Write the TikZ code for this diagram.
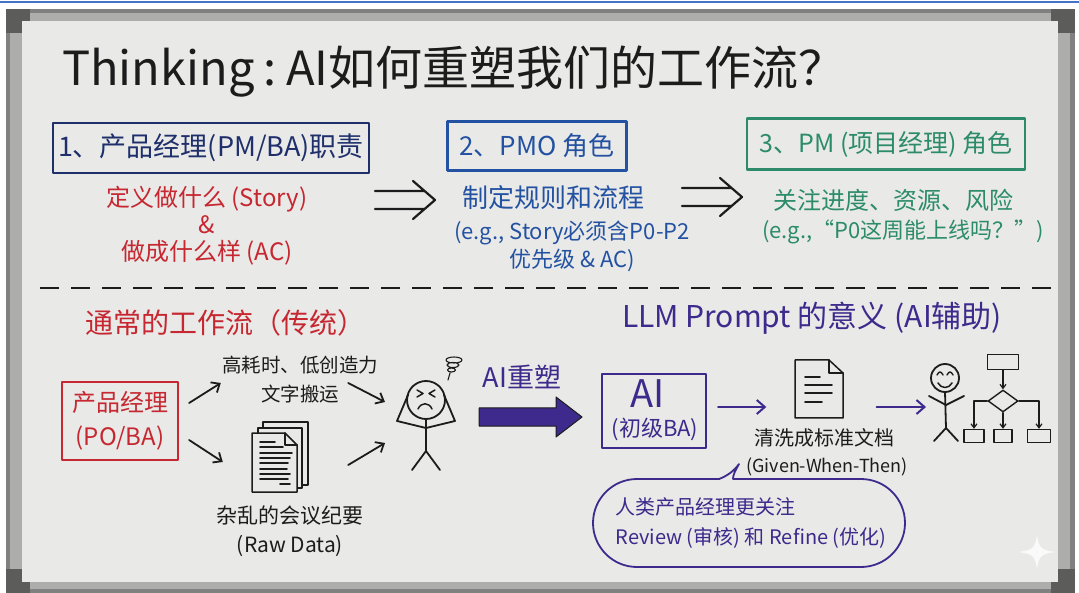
\documentclass[tikz,border=0pt]{standalone}
\usepackage{fontspec}
\setmainfont{Noto Sans CJK SC}
\usetikzlibrary{arrows.meta,positioning,calc,shapes.geometric}
\definecolor{ink}{HTML}{1C1C1C}
\definecolor{board}{HTML}{E9E9E7}
\definecolor{rim}{HTML}{808080}
\definecolor{rimlight}{HTML}{ADADAB}
\definecolor{rimdark}{HTML}{5C5C5A}
\definecolor{navy}{HTML}{1E2F6C}
\definecolor{pmoblue}{HTML}{2352A2}
\definecolor{pmgreen}{HTML}{2B8B6B}
\definecolor{marker}{HTML}{C62730}
\definecolor{aiviolet}{HTML}{3D2A8C}
\definecolor{topline}{HTML}{4472C4}
\newcommand{\fsz}[2]{\fontsize{#1}{#2}\selectfont}

\begin{document}
\begin{tikzpicture}[x=1pt,y=-1pt,line cap=round,line join=round,
    box/.style={draw,line width=2.2pt,inner sep=0pt},
    txt/.style={inner sep=0pt,align=center},
    arr/.style={ink,line width=1.8pt,-{Straight Barb[length=7pt,width=12pt]}},
    parr/.style={aiviolet,line width=2pt,-{Straight Barb[length=8pt,width=14pt]}},
    farr/.style={ink,line width=1.2pt,-{Straight Barb[length=4pt,width=6pt]}},
    fig/.style={ink,line width=1.8pt},
    sheet/.style={draw=ink,fill=board,line width=1.5pt},
    chart/.style={draw=ink,line width=1.4pt,inner sep=0pt}]
  \useasboundingbox (0,0) rectangle (1079,593);
  \fill[white] (0,0) rectangle (1079,593);
  \draw[topline,line width=2pt] (0,2) -- (1079,2);
  % frame and board
  \fill[rim] (6,9) rectangle (1075,593);
  \fill[rimlight] (10,13) rectangle (1070,589);
  \foreach \cx/\cy in {6/9,1051/9,6/569,1051/569}
    \fill[rimdark] (\cx,\cy) rectangle ++(24,24);
  \fill[board] (22,21) rectangle (1058,582);

  \node[anchor=base west,inner sep=0pt,ink,font=\fsz{47}{54}] (title) at (62,86)
    {Thinking\hspace{.2em}:\hspace{.2em}AI如何重塑我们的工作流？};

  \node[box,navy,minimum width=316pt,minimum height=50pt,font=\fsz{27}{30}] (pmbox) at (211,148)
    {1、产品经理(PM/BA)职责};
  \node[box,pmoblue,minimum width=179pt,minimum height=49pt,font=\fsz{26}{30}] (pmobox) at (537,146)
    {2、PMO 角色};
  \node[box,pmgreen,minimum width=278pt,minimum height=51pt,font=\fsz{25}{30}] (probox) at (886,144)
    {3、PM (项目经理) 角色};

  \node[txt,marker,font=\fsz{24}{27}] (duty) at (207,226)
    {定义做什么 (Story)\\\&\\做成什么样 (AC)};
  \node[txt,pmoblue,font=\fsz{26}{30}] (rules) at (553,198) {制定规则和流程};
  \node[txt,pmoblue,font=\fsz{22}{28}] (rulesnote) at (572,246)
    {(e.g., Story必须含P0-P2\\优先级 \& AC)};
  \node[txt,pmgreen,font=\fsz{24}{28}] (focus) at (893,200) {关注进度、资源、风险};
  \node[txt,pmgreen,font=\fsz{22}{28}] (focusnote) at (903,232) {(e.g.,“P0这周能上线吗？”)};

  \foreach \ax/\ay in {375/200,682/197}
    \draw[ink,line width=2.2pt] (\ax,\ay-9) -- ++(49,0) (\ax,\ay+9) -- ++(49,0)
      (\ax+38,\ay-19) -- (\ax+60,\ay) -- (\ax+38,\ay+19);

  \draw[ink,line width=2.6pt,line cap=butt,dash pattern=on 19pt off 12pt] (40,288) -- (1052,288);

  % traditional flow
  \node[txt,marker,font=\fsz{28}{30}] (legacy) at (225,323) {通常的工作流（传统）};
  \node[box,marker,align=center,minimum width=116pt,minimum height=78pt,font=\fsz{24}{34}] (pobox) at (120,421)
    {产品经理\\(PO/BA)};
  \node[txt,ink,font=\fsz{19.5}{29}] (cost) at (300,380) {高耗时、低创造力\\文字搬运};
  \node[minimum width=66pt,minimum height=71pt,inner sep=0pt] (stack) at (282,457) {};
  \node[txt,ink,font=\fsz{21}{29}] (rawnote) at (290,531) {杂乱的会议纪要\\(Raw Data)};
  \coordinate (stress) at (426,425);

  \draw[sheet] (263,422) rectangle (308,485);
  \draw[sheet] (258,428) rectangle (302,488);
  \draw[sheet] (252,433) -- (285,433) -- (297,445) -- (297,492) -- (252,492) -- cycle;
  \draw[ink,line width=1.5pt] (285,433) -- (285,445) -- (297,445);
  \foreach \ly/\lx in {442/275,447/283,453/292,458/290,463/288,469/287,474/290,479/288}
    \draw[ink,line width=1.8pt] (260,\ly) -- (\lx,\ly);
  \draw[ink,line width=1.8pt] (280,484) -- (290,484);

  \draw[fig] (426,400) circle (19pt);
  \draw[fig,line width=1.5pt] (417,390) -- (423,393.5) -- (417,397) (435,390) -- (429,393.5) -- (435,397);
  \draw[fig,line width=1.5pt] (418,409) .. controls (421,402) and (429,402) .. (432,409);
  \draw[fig] (426,419) -- (426,451) (412,470) -- (426,451) -- (440,470);
  \draw[fig] (426,428) -- (397,421) -- (408,395) (426,428) -- (455,421) -- (444,395);
  \draw[ink,line width=1.1pt] (454,360) ellipse (8pt and 3pt) (453,365) ellipse (6pt and 2.5pt)
    (451.5,370) ellipse (4pt and 2pt) (450,373) -- (448,380);

  \draw[arr] ($(pobox.east)+(10,-18)$) -- ($(cost.west)+(-1,3)$);
  \draw[arr] ($(pobox.east)+(10,19)$) -- ($(stack.west)+(-26,5)$);
  \draw[arr] ($(cost.east)+(-30,3)$) -- ($(stress)+(-41,-23)$);
  \draw[arr] ($(stack.east)+(33,8)$) -- ($(stress)+(-41,18)$);

  % AI assisted flow
  \node[txt,aiviolet,font=\fsz{30}{32}] (prompt) at (812,318) {LLM Prompt 的意义 (AI辅助)};
  \node[txt,aiviolet,font=\fsz{27}{30}] (reshape) at (522,377) {AI重塑};
  \draw[ink,line width=1pt,fill=aiviolet] (479,408) -- (556,408) -- (556,397) -- (582,417)
    -- (556,437) -- (556,426) -- (479,426) -- cycle;

  \node[box,aiviolet,minimum width=104pt,minimum height=74pt] (aibox) at (654,411) {};
  \node[txt,aiviolet,font=\fsz{38}{40}] (ailabel) at (648,394) {AI};
  \node[txt,aiviolet,font=\fsz{22}{26}] (aisub) at (655,429) {(初级BA)};

  \node[minimum width=49pt,minimum height=60pt,inner sep=0pt] (stdoc) at (819,389) {};
  \draw[sheet] (795,360) -- (829,360) -- (843,373) -- (843,418) -- (795,418) -- cycle;
  \draw[ink,line width=1.5pt] (829,360) -- (829,373) -- (843,373);
  \foreach \ly/\lx in {377/820,385/832,393/832,402/822}
    \draw[ink,line width=1.8pt] (805,\ly) -- (\lx,\ly);
  \node[txt,ink,font=\fsz{20}{24}] (cleantxt) at (824,438) {清洗成标准文档};
  \node[txt,ink,font=\fsz{18}{22}] (gwt) at (827,467) {(Given-When-Then)};

  \coordinate (happy) at (946,405);
  \draw[fig] (945,378) circle (14pt);
  \draw[fig,line width=1.4pt] (937,375) .. controls (939,371) and (941,371) .. (943,375)
    (947,375) .. controls (949,371) and (951,371) .. (953,375);
  \draw[fig,line width=1.5pt] (938,383) .. controls (941,389) and (949,389) .. (952,383);
  \draw[fig] (945,392) -- (946,428) (934,441) -- (946,428) -- (958,441);
  \draw[fig] (929,396) -- (946,405) -- (964,396);

  \draw[parr] ($(aibox.east)+(11,-4)$) -- ($(stdoc.west)+(-28,18)$);
  \draw[parr] ($(stdoc.east)+(33,18)$) -- ($(happy)+(-20,2)$);

  \node[chart,minimum width=31pt,minimum height=15pt] (fstart) at (1003,362) {};
  \node[chart,diamond,minimum width=30pt,minimum height=22pt] (fdecide) at (1003,401) {};
  \node[chart,minimum width=20pt,minimum height=13pt] (fleft) at (974,436) {};
  \node[chart,minimum width=18pt,minimum height=13pt] (fmid) at (1003,436) {};
  \node[chart,minimum width=23pt,minimum height=13pt] (fright) at (1039,436) {};
  \draw[farr] (fstart) -- (fdecide);
  \draw[farr] (fdecide.west) -| (fleft);
  \draw[farr] (fdecide) -- (fmid);
  \draw[farr] (fdecide.east) -| (fright);

  \node[draw=aiviolet,line width=1.8pt,rounded corners=44pt,minimum width=312pt,minimum height=88pt] (bubble) at (749,523) {};
  \fill[board] (720,475) rectangle (733,484);
  \draw[aiviolet,line width=1.8pt] (719,479) .. controls (727,476) and (734,471) .. (739,464)
    .. controls (735,471) and (733,475) .. (733,479);
  \node[txt,aiviolet,align=left,font=\fsz{20}{30}] (bubbletxt) at (751,523)
    {人类产品经理更关注\\Review (审核) 和 Refine (优化)};

  \fill[white,opacity=.8] (1037,535) .. controls (1039,548) and (1041,550) .. (1055,552)
    .. controls (1041,554) and (1039,556) .. (1037,569) .. controls (1035,556) and (1033,554) .. (1019,552)
    .. controls (1033,550) and (1035,548) .. (1037,535) -- cycle;
\end{tikzpicture}
\end{document}
